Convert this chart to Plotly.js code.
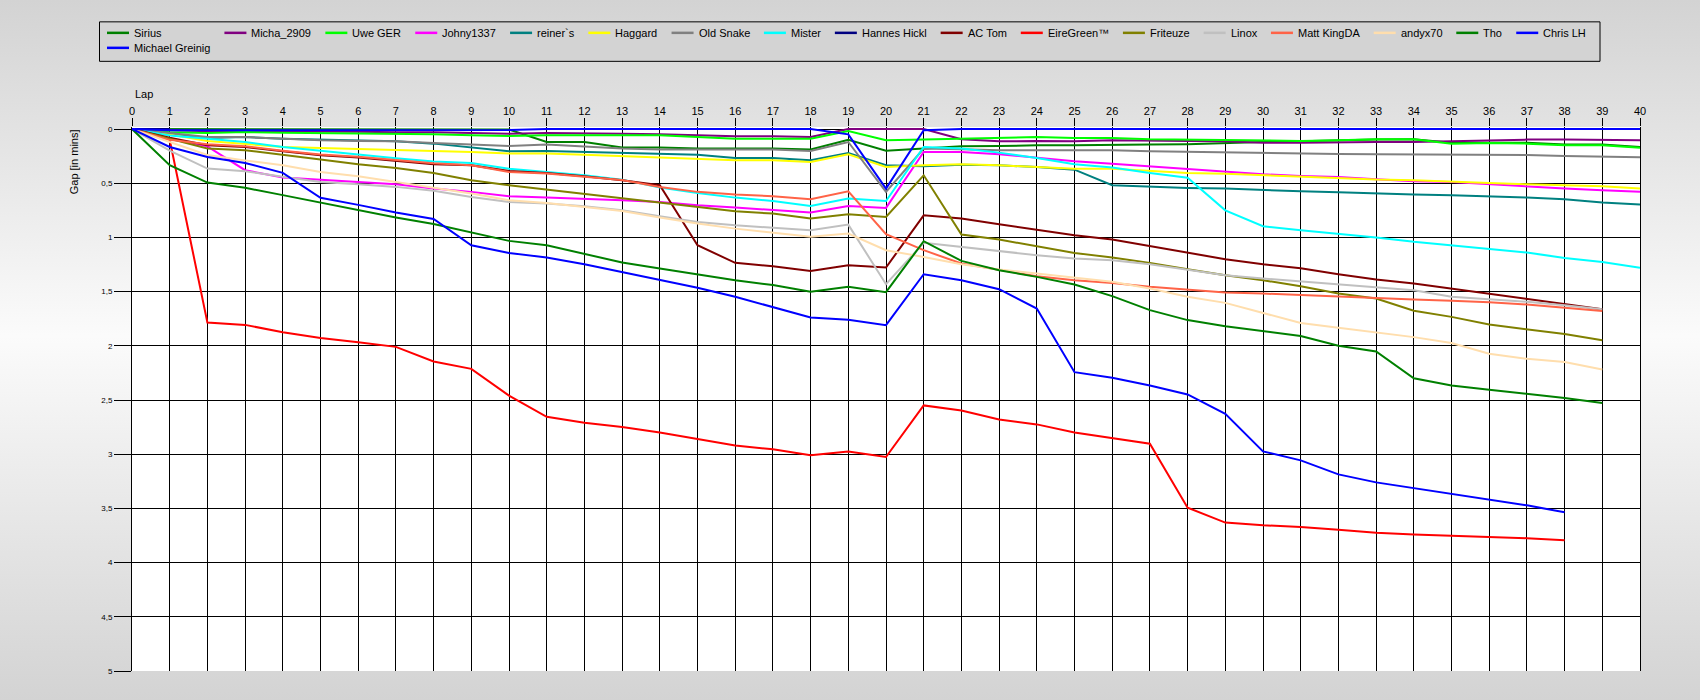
<!DOCTYPE html>
<html><head><meta charset="utf-8">
<script src="https://cdn.plot.ly/plotly-3.0.1.min.js"></script>
<style>
html,body{margin:0;padding:0;}
body{width:1700px;height:700px;overflow:hidden;background:linear-gradient(to bottom,#d3d3d3 0%,#fbfbfb 48%,#d3d3d3 100%);}
#chart{width:1700px;height:700px;}
</style></head><body><div id="chart"></div>
<script>
// ---------- DATA ----------
const laps = Array.from({length: 41}, (_, i) => i);
const names = ["Sirius","Micha_2909","Uwe GER","Johny1337","reiner`s","Haggard","Old Snake","Mister","Hannes Hickl","AC Tom","EireGreen\u2122","Friteuze","Linox","Matt KingDA","andyx70","Tho","Chris LH","Michael Greinig"];
const colors = ["#008000","#800080","#00FF00","#FF00FF","#008080","#FFFF00","#808080","#00FFFF","#000080","#800000","#FF0000","#808000","#C0C0C0","#FF6347","#FFDEAD","#008000","#0000FF","#0000FF"];

const sirius = [0,0,0,0,0,0,0,0,0,0,0.005,0.12,0.12,0.17,0.17,0.18,0.18,0.18,0.19,0.10,0.20,0.18,0.16,0.157,0.15,0.15,0.144,0.144,0.141,0.129,0.12,0.112,0.104,0.098,0.095,0.126,0.126,0.126,0.144,0.144,0.166];
const micha2909 = [0,0.01,0.02,0.02,0.02,0.025,0.025,0.03,0.03,0.037,0.043,0.037,0.037,0.043,0.049,0.058,0.068,0.068,0.074,0,0,0,0.095,0.114,0.11,0.114,0.104,0.104,0.11,0.114,0.126,0.126,0.12,0.12,0.12,0.112,0.104,0.098,0.098,0.098,0.104];
const uweGer = [0,0.03,0.037,0.028,0.034,0.037,0.037,0.043,0.049,0.058,0.065,0.058,0.058,0.052,0.058,0.074,0.089,0.089,0.089,0.018,0.104,0.098,0.089,0.083,0.074,0.083,0.083,0.095,0.098,0.098,0.104,0.11,0.104,0.095,0.095,0.135,0.129,0.135,0.15,0.15,0.172];
const johny1337 = [0,0.09,0.16,0.38,0.448,0.466,0.488,0.509,0.549,0.58,0.62,0.633,0.642,0.657,0.673,0.703,0.725,0.75,0.771,0.71,0.728,0.212,0.212,0.233,0.264,0.298,0.32,0.344,0.372,0.396,0.418,0.433,0.442,0.464,0.482,0.488,0.51,0.528,0.55,0.565,0.58];
const reiners = [0,0.05,0.083,0.074,0.089,0.098,0.104,0.113,0.135,0.17,0.206,0.203,0.212,0.218,0.233,0.237,0.267,0.267,0.289,0.221,0.335,0.344,0.329,0.335,0.35,0.375,0.519,0.535,0.544,0.55,0.565,0.575,0.584,0.596,0.605,0.611,0.62,0.633,0.648,0.679,0.697];
const haggard = [0,0.05,0.11,0.135,0.166,0.175,0.184,0.19,0.205,0.212,0.227,0.227,0.237,0.249,0.264,0.276,0.289,0.289,0.304,0.233,0.35,0.335,0.326,0.335,0.35,0.366,0.366,0.387,0.406,0.412,0.427,0.442,0.452,0.467,0.473,0.482,0.498,0.51,0.519,0.528,0.55];
const oldSnake = [0,0.04,0.074,0.074,0.089,0.104,0.11,0.113,0.129,0.144,0.157,0.144,0.16,0.181,0.19,0.19,0.19,0.19,0.203,0.12,0.58,0.181,0.187,0.197,0.197,0.197,0.197,0.206,0.212,0.218,0.221,0.23,0.23,0.233,0.233,0.233,0.24,0.24,0.249,0.255,0.261];
const mister = [0,0.06,0.09,0.12,0.166,0.2,0.24,0.27,0.30,0.313,0.366,0.396,0.427,0.467,0.54,0.59,0.633,0.664,0.71,0.642,0.664,0.166,0.18,0.218,0.267,0.326,0.356,0.406,0.449,0.75,0.897,0.934,0.965,1.0,1.041,1.072,1.103,1.14,1.189,1.226,1.281];
const hannesHickl = [0,0];
const acTom = [0,0.08,0.15,0.166,0.206,0.242,0.264,0.294,0.325,0.335,0.387,0.406,0.436,0.473,0.519,1.072,1.235,1.266,1.309,1.257,1.278,0.796,0.826,0.879,0.928,0.98,1.02,1.081,1.143,1.201,1.247,1.285,1.34,1.389,1.425,1.472,1.518,1.564,1.61,1.662];
const eireGreen = [0,0.1,1.786,1.807,1.875,1.927,1.967,2.01,2.145,2.213,2.46,2.655,2.71,2.75,2.80,2.86,2.92,2.955,3.01,2.975,3.026,2.55,2.596,2.679,2.725,2.80,2.85,2.903,3.493,3.631,3.656,3.671,3.696,3.724,3.74,3.75,3.76,3.775,3.794];
const friteuze = [0,0.09,0.18,0.196,0.242,0.282,0.325,0.359,0.405,0.473,0.519,0.559,0.596,0.633,0.673,0.719,0.759,0.78,0.826,0.786,0.811,0.427,0.974,1.02,1.081,1.143,1.186,1.235,1.293,1.349,1.395,1.45,1.518,1.564,1.677,1.733,1.803,1.846,1.892,1.948];
const linox = [0,0.2,0.365,0.39,0.44,0.488,0.51,0.534,0.57,0.627,0.673,0.688,0.713,0.75,0.805,0.857,0.888,0.909,0.934,0.882,1.432,1.05,1.088,1.124,1.164,1.195,1.21,1.247,1.296,1.349,1.379,1.405,1.432,1.456,1.487,1.548,1.57,1.594,1.625,1.662];
const mattKingDA = [0,0.1,0.14,0.16,0.2,0.235,0.255,0.285,0.315,0.335,0.396,0.41,0.44,0.47,0.535,0.58,0.605,0.62,0.648,0.575,0.97,1.118,1.241,1.303,1.358,1.395,1.42,1.456,1.481,1.508,1.518,1.533,1.542,1.558,1.573,1.585,1.598,1.619,1.647,1.68];
const andyx70 = [0,0.12,0.24,0.29,0.334,0.396,0.436,0.488,0.54,0.596,0.657,0.682,0.719,0.756,0.817,0.872,0.919,0.955,0.995,0.965,1.118,1.18,1.247,1.296,1.333,1.37,1.41,1.472,1.548,1.604,1.70,1.79,1.834,1.874,1.92,1.975,2.074,2.12,2.15,2.218];
const tho = [0,0.334,0.494,0.543,0.61,0.68,0.748,0.816,0.877,0.958,1.032,1.072,1.149,1.232,1.287,1.343,1.395,1.44,1.502,1.456,1.505,1.035,1.217,1.303,1.364,1.435,1.542,1.671,1.763,1.819,1.862,1.91,2.0,2.052,2.30,2.366,2.406,2.442,2.482,2.528];
const chrisLH = [0,0.012,0.012,0.012,0.012,0.012,0.012,0.012,0.012,0.012,0.01,0,0,0,0,0,0,0,0,0.049,0.55,0.012,0,0,0,0,0,0,0,0,0,0,0,0,0,0,0,0,0,0,0];
const michaelGreinig = [0,0.166,0.258,0.313,0.405,0.635,0.70,0.77,0.83,1.072,1.143,1.186,1.247,1.318,1.389,1.465,1.548,1.64,1.739,1.76,1.81,1.34,1.395,1.478,1.656,2.243,2.295,2.366,2.449,2.627,2.974,3.057,3.186,3.26,3.312,3.37,3.416,3.472,3.536];

const series = [sirius,micha2909,uweGer,johny1337,reiners,haggard,oldSnake,mister,hannesHickl,acTom,eireGreen,friteuze,linox,mattKingDA,andyx70,tho,chrisLH,michaelGreinig];
const yTickVals = [0,0.5,1,1.5,2,2.5,3,3.5,4,4.5,5];
const yTickText = yTickVals.map(v => String(v).replace('.', ','));

// ---------- LAYOUT ----------
const W = 1700, H = 700;
const y0px = 128.7, y5px = 671;           // pixel rows of gap 0 and gap 5
const pxPerUnit = (y5px - y0px) / 5;
const L = 132, R = 60, T = 126.7, B = H - y5px;   // plot top a bit above 0 so the leader line is not clipped
const yTop = -(y0px - T) / pxPerUnit;
const PW = W - L - R, PH = H - T - B;
const fx = px => (px - L) / PW;
const fy = py => 1 - (py - T) / PH;
const FONT = 'Liberation Sans, Arial, sans-serif';

const traces = series.map((vals, i) => ({
  type: 'scatter', mode: 'lines', name: names[i],
  x: laps.slice(0, vals.length), y: vals,
  line: {color: colors[i], width: 2},
  showlegend: false, hoverinfo: 'skip'
}));

// legend built as shapes + annotations, laid out like the original (column widths from text widths)
const legFont = 11;
const ctx = document.createElement('canvas').getContext('2d');
ctx.font = legFont + 'px "Liberation Sans"';
const tw = s => ctx.measureText(s).width;
const shapes = [];
const annotations = [];
const boxL = 99.5, boxR = 1600, boxT = 21.5, boxB = 61;
shapes.push({type: 'rect', xref: 'paper', yref: 'paper', x0: fx(boxL), x1: fx(boxR), y0: fy(boxT), y1: fy(boxB),
  fillcolor: '#d3d3d3', line: {color: '#000', width: 1}, layer: 'below'});
const rowY = [32.5, 47.5];
const nCols = 17;
let cx = 107;
for (let c = 0; c < nCols; c++) {
  const items = [c];
  if (c + nCols < names.length) items.push(c + nCols);
  const colW = Math.max(...items.map(k => tw(names[k])));
  items.forEach((k, r) => {
    shapes.push({type: 'line', xref: 'paper', yref: 'paper', x0: fx(cx), x1: fx(cx + 22), y0: fy(rowY[r]), y1: fy(rowY[r]),
      line: {color: colors[k], width: 2.5}});
    annotations.push({xref: 'paper', yref: 'paper', x: fx(cx + 25), y: fy(rowY[r] + 0.5), text: names[k], showarrow: false,
      xanchor: 'left', yanchor: 'middle', font: {family: FONT, size: legFont, color: '#000'}});
  });
  cx = cx + 27 + colW + 14;
}
// axis titles
annotations.push({xref: 'paper', yref: 'paper', x: fx(133), y: fy(94), text: 'Lap', showarrow: false,
  xanchor: 'left', yanchor: 'middle', font: {family: FONT, size: 11, color: '#000'}});
annotations.push({xref: 'paper', yref: 'paper', x: fx(74), y: fy(162), text: 'Gap [in mins]', showarrow: false, textangle: -90,
  xanchor: 'center', yanchor: 'middle', font: {family: FONT, size: 11, color: '#000'}});

const layout = {
  width: W, height: H,
  margin: {l: L, r: R, t: T, b: B, pad: 0},
  paper_bgcolor: 'rgba(0,0,0,0)', plot_bgcolor: '#ffffff',
  showlegend: false,
  font: {family: FONT, color: '#000'},
  xaxis: {range: [0, 40], side: 'top', tickmode: 'linear', tick0: 0, dtick: 1,
    ticks: 'outside', ticklen: 8, tickwidth: 1, tickcolor: '#000', ticklabelstandoff: -1,
    showgrid: true, gridcolor: '#000', gridwidth: 1, zeroline: false,
    showline: false, layer: 'below traces',
    tickfont: {family: FONT, size: 11, color: '#000'}},
  yaxis: {range: [5, yTop], tickmode: 'array', tickvals: yTickVals, ticktext: yTickText,
    ticks: 'outside', ticklen: 17, tickwidth: 1, tickcolor: '#000',
    showgrid: true, gridcolor: '#000', gridwidth: 1, zeroline: false,
    showline: true, linecolor: '#000', linewidth: 1, mirror: true, layer: 'below traces',
    tickfont: {family: FONT, size: 8, color: '#000'}},
  shapes: shapes, annotations: annotations
};
Plotly.newPlot('chart', traces, layout, {staticPlot: true, displayModeBar: false});
</script></body></html>
